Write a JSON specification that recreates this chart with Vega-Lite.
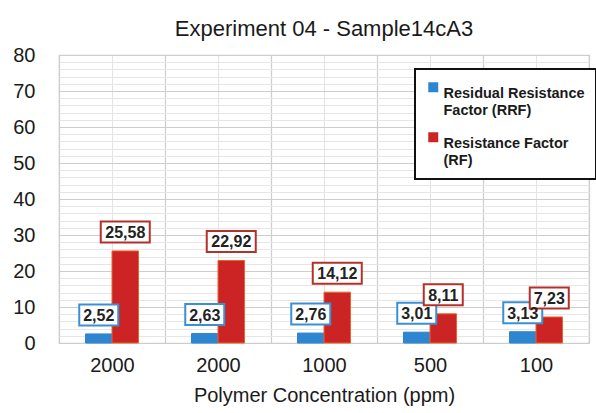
{
  "$schema": "https://vega.github.io/schema/vega-lite/v6.json",
  "autosize": {"type": "none"},
  "width": 530,
  "height": 288,
  "padding": {"left": 59, "top": 55, "right": 7, "bottom": 70},
  "background": "white",
  "title": {
    "text": "Experiment 04 - Sample14cA3",
    "fontSize": 22,
    "fontWeight": "normal",
    "font": "Liberation Sans",
    "color": "#1a1a1a",
    "offset": 4
  },
  "data": {
    "values": [
      {"run": "2000|1", "series": "RRF", "value": 2.52},
      {"run": "2000|1", "series": "RF", "value": 25.58},
      {"run": "2000|2", "series": "RRF", "value": 2.63},
      {"run": "2000|2", "series": "RF", "value": 22.92},
      {"run": "1000|3", "series": "RRF", "value": 2.76},
      {"run": "1000|3", "series": "RF", "value": 14.12},
      {"run": "500|4", "series": "RRF", "value": 3.01},
      {"run": "500|4", "series": "RF", "value": 8.11},
      {"run": "100|5", "series": "RRF", "value": 3.13},
      {"run": "100|5", "series": "RF", "value": 7.23}
    ]
  },
  "encoding": {
    "x": {
      "field": "run",
      "type": "nominal",
      "sort": null,
      "scale": {"paddingInner": 0, "paddingOuter": 0}
    },
    "xOffset": {
      "field": "series",
      "type": "nominal",
      "sort": ["RRF", "RF"],
      "scale": {"paddingInner": 0, "paddingOuter": 1.35}
    },
    "y": {
      "field": "value",
      "type": "quantitative",
      "scale": {"domain": [0, 80], "nice": false}
    }
  },
  "layer": [
    {
      "mark": {"type": "bar", "strokeWidth": 1},
      "encoding": {
        "x": {
          "field": "run",
          "type": "nominal",
          "sort": null,
          "scale": {"paddingInner": 0, "paddingOuter": 0},
          "axis": {
            "title": "Polymer Concentration (ppm)",
            "labelExpr": "datum.value ? split(datum.value, '|')[0] : ''",
            "labelAngle": 0,
            "labelFontSize": 20,
            "labelPadding": 12,
            "titleFontSize": 20,
            "titleFontWeight": "normal",
            "titlePadding": 10,
            "grid": true,
            "tickBand": "extent",
            "gridColor": "#cdcdcd",
            "gridWidth": 1.2,
            "ticks": false,
            "domain": false
          }
        },
        "y": {
          "field": "value",
          "type": "quantitative",
          "scale": {"domain": [0, 80], "nice": false},
          "axis": {
            "title": null,
            "values": [0, 10, 20, 30, 40, 50, 60, 70, 80],
            "labelFontSize": 20,
            "labelPadding": 24,
            "grid": true,
            "gridColor": "#cdcdcd",
            "gridWidth": 1.2,
            "ticks": false,
            "domain": false
          }
        },
        "color": {
          "field": "series",
          "type": "nominal",
          "scale": {"domain": ["RRF", "RF"], "range": ["#2f86d0", "#cc2424"]},
          "legend": {
            "title": null,
            "labelExpr": "datum.label == 'RRF' ? ['Residual Resistance', 'Factor (RRF)'] : ['Resistance Factor', '(RF)']"
          }
        },
        "stroke": {
          "condition": {"test": "datum.series == 'RF'", "value": "#e8642a"},
          "value": "#2f86d0"
        }
      }
    },
    {
      "mark": {"type": "point", "filled": false, "fill": "white", "fillOpacity": 1, "strokeWidth": 2, "size": 400, "opacity": 1, "yOffset": -19},
      "encoding": {
        "x": {
          "field": "run",
          "type": "nominal",
          "sort": null,
          "axis": {
            "orient": "top",
            "labels": false,
            "ticks": false,
            "domain": false,
            "title": null,
            "grid": true,
            "bandPosition": 0.5,
            "gridColor": "#e4e4e4"
          }
        },
        "y": {
          "field": "value",
          "type": "quantitative",
          "axis": {
            "orient": "right",
            "labels": false,
            "ticks": false,
            "domain": false,
            "title": null,
            "grid": true,
            "gridColor": "#e6e6e6",
            "values": [2, 4, 6, 8, 12, 14, 16, 18, 22, 24, 26, 28, 32, 34, 36, 38, 42, 44, 46, 48, 52, 54, 56, 58, 62, 64, 66, 68, 72, 74, 76, 78]
          }
        },
        "shape": {
          "condition": {"test": "datum.value >= 10", "value": "M-2.45,-1.05H2.45V1.05H-2.45Z"},
          "value": "M-1.95,-1.05H1.95V1.05H-1.95Z"
        },
        "stroke": {
          "condition": {"test": "datum.series == 'RF'", "value": "#b3302b"},
          "value": "#3a90d6"
        }
      }
    },
    {
      "mark": {"type": "text", "fontSize": 16, "fontWeight": "bold", "font": "Liberation Sans", "color": "#222222", "baseline": "middle", "yOffset": -18},
      "encoding": {
        "x": {"field": "run", "type": "nominal", "sort": null, "axis": null},
        "y": {"field": "value", "type": "quantitative", "axis": null},
        "text": {"field": "value", "type": "quantitative", "format": ".2f"}
      }
    }
  ],
  "resolve": {"axis": {"x": "independent", "y": "independent"}},
  "config": {
    "font": "Liberation Sans",
    "locale": {"number": {"decimal": ",", "thousands": ".", "grouping": [3], "currency": ["", ""]}},
    "view": {"stroke": "#cdcdcd", "strokeWidth": 1.2},
    "axis": {"labelColor": "#1a1a1a", "titleColor": "#1a1a1a", "labelFont": "Liberation Sans", "titleFont": "Liberation Sans"},
    "legend": {
      "orient": "none",
      "legendX": 356,
      "legendY": 14,
      "strokeColor": "#111111",
      "strokeWidth": 2,
      "fillColor": "white",
      "padding": 11,
      "symbolType": "square",
      "symbolSize": 100,
      "symbolStrokeWidth": 0,
      "labelFontSize": 14.5,
      "labelFontWeight": "bold",
      "labelColor": "#1a1a1a",
      "labelLimit": 300,
      "labelOffset": 3,
      "rowPadding": 12,
      "labelBaseline": "top"
    }
  }
}
